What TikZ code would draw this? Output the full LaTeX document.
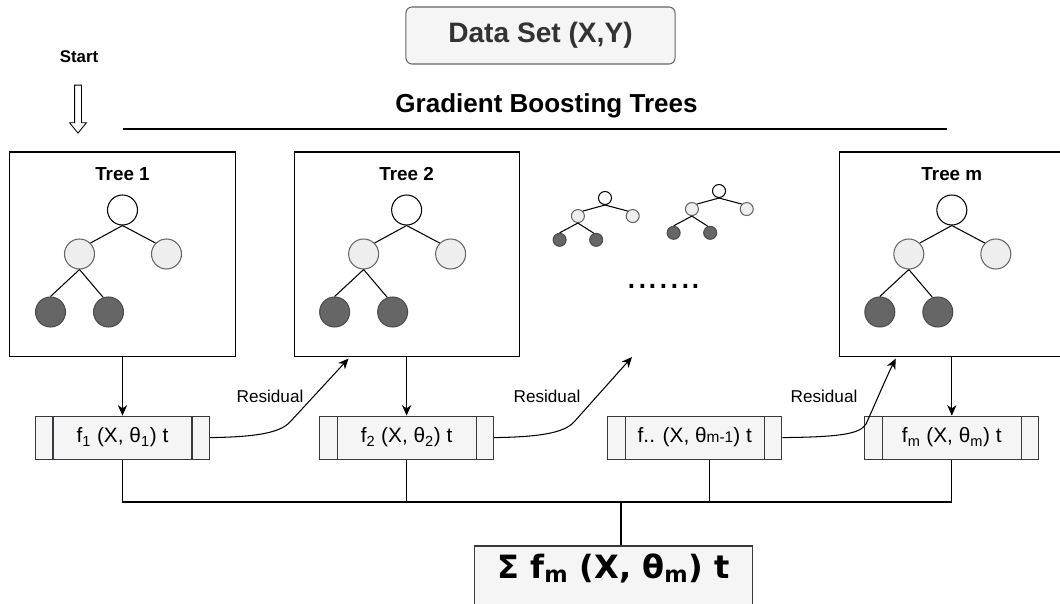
\documentclass[tikz,border=0pt]{standalone}
\usepackage{fontspec}
\setmainfont{Liberation Sans}
\newfontfamily\sumfont{DejaVu Sans}
\usetikzlibrary{positioning, arrows.meta, shapes.arrows, calc}
\definecolor{ink}{HTML}{000000}
\definecolor{boxfill}{HTML}{F5F5F5}
\definecolor{boxline}{HTML}{36393D}
\definecolor{dsline}{HTML}{666666}
\definecolor{dstext}{HTML}{333333}
\definecolor{nodelt}{HTML}{EEEEEE}
\definecolor{nodedk}{HTML}{666666}
\definecolor{nodeln}{HTML}{4D4D4D}
\tikzset{
  treebox/.style={draw=ink, line width=0.75pt, fill=white, inner sep=0pt,
    minimum width=5.625cm, minimum height=5.1cm},
  ttl/.style={font=\bfseries\fontsize{13.4}{16}\selectfont, inner sep=0pt},
  fbox/.style={draw=boxline, line width=0.75pt, fill=boxfill, inner sep=0pt,
    minimum width=4.35cm, minimum height=1.075cm, font=\fontsize{14.8}{17}\selectfont,
    path picture={\draw[boxline, line width=0.75pt]
      ([xshift=0.4375cm]path picture bounding box.north west) -- ([xshift=0.4375cm]path picture bounding box.south west)
      ([xshift=-0.4375cm]path picture bounding box.north east) -- ([xshift=-0.4375cm]path picture bounding box.south east);}},
  dsbox/.style={draw=dsline, line width=0.75pt, fill=boxfill, rounded corners=0.15cm,
    minimum width=6.725cm, minimum height=1.425cm, text=dstext,
    font=\bfseries\fontsize{20}{24}\selectfont},
  sumbox/.style={draw=boxline, line width=0.75pt, fill=boxfill,
    minimum width=6.925cm, minimum height=1.55cm, text depth=0.56cm,
    font=\sumfont\bfseries\fontsize{22.8}{26}\selectfont},
  rootc/.style={circle, draw=ink, fill=white, line width=0.75pt, inner sep=0pt},
  midc/.style={circle, draw=dsline, fill=nodelt, line width=0.75pt, inner sep=0pt},
  leafc/.style={circle, draw=nodeln, fill=nodedk, line width=0.75pt, inner sep=0pt},
  twig/.style={line width=0.75pt, draw=ink},
  btree/.pic={
    \node[rootc, minimum size=#1*0.025cm] (-root) at (0,0) {};
    \node[midc, minimum size=#1*0.025cm] (-ml) at (-43,44) {};
    \node[midc, minimum size=#1*0.025cm] (-mr) at (44,44) {};
    \node[leafc, minimum size=#1*0.025cm] (-la) at (-72,102) {};
    \node[leafc, minimum size=#1*0.025cm] (-lb) at (-14,102) {};
    \draw[twig] (-root.south) -- (-ml.north east) (-root.south) -- (-mr.north west)
      (-ml.south) -- (-la.north) (-ml.south) -- (-lb.110);
  },
  flow/.style={-{Stealth[length=2.6mm, width=2.3mm, inset=0.8mm]}, line width=0.75pt, draw=ink},
  link/.style={line width=0.75pt, draw=ink},
  rlbl/.style={font=\fontsize{12.2}{14}\selectfont, inner sep=0pt},
  startarr/.style={single arrow, draw=ink, fill=white, line width=0.6pt, rotate=-90,
    minimum height=1.2cm, minimum width=0.4cm, single arrow head extend=0.125cm,
    single arrow tip angle=78, inner xsep=0pt, inner ysep=0.075cm},
}
\begin{document}
\begin{tikzpicture}[x=0.025cm, y=-0.025cm, node distance=3mm and 10mm]
  \useasboundingbox (0,0) rectangle (1060,604);
  \node[dsbox] (data) at (540.5,35.5) {Data Set (X,Y)};
  \node[font=\bfseries\fontsize{12}{14}\selectfont, inner sep=0pt] (start) at (79,57) {Start};
  \node[startarr] (go) at (78,107) {};
  \node[font=\bfseries\fontsize{18.5}{22}\selectfont, inner sep=0pt] (title) at (546.5,106) {Gradient Boosting Trees};
  \draw[link] (123,129) -- (947,129);

  \node[treebox] (tr1) at (122.5,254) {};
  \node[treebox, right=1.45cm of tr1] (tr2) {};
  \node[treebox, right=7.975cm of tr2] (trm) {};
  \node[ttl, below=4mm of tr1.north] (tr1ttl) {Tree 1};
  \node[ttl, below=4mm of tr2.north] (tr2ttl) {Tree 2};
  \node[ttl, below=4mm of trm.north] (trmttl) {Tree m};
  \pic (t1) at ($(tr1)+(0,-44)$) {btree=30};
  \pic (t2) at ($(tr2)+(0,-44)$) {btree=30};
  \pic (tm) at ($(trm)+(0,-44)$) {btree=30};
  \pic[xscale=.63, yscale=.41] (sa) at (605,198) {btree=13};
  \pic[xscale=.63, yscale=.41] (sb) at (719,191) {btree=13};
  \node[font=\fontsize{27.4}{30}\selectfont, inner sep=0pt] (more) at (664,286) {.......};

  \node[fbox, below=1.475cm of tr1] (f1) {f\textsubscript{1} (X, θ\textsubscript{1}) t};
  \node[fbox, below=1.475cm of tr2] (f2) {f\textsubscript{2} (X, θ\textsubscript{2}) t};
  \node[fbox, right=2.825cm of f2] (fx) {f.. (X, θ{\fontsize{11}{13}\selectfont m-1}) t};
  \node[fbox, below=1.475cm of trm] (fm) {f\textsubscript{m} (X, θ\textsubscript{m}) t};
  \node[sumbox] (sum) at (613.5,577) {Σ f\textsubscript{m} (X, θ\textsubscript{m}) t};

  \draw[flow] (tr1) -- (f1);
  \draw[flow] (tr2) -- (f2);
  \draw[flow] (trm) -- (fm);

  \coordinate (r1tip) at ($(tr2.south west)+(55,2)$);
  \coordinate (r2tip) at (632,357);
  \coordinate (r3tip) at ($(trm.south west)+(57,2)$);
  \draw[flow] (f1.east) .. controls (255,437) and (280,433) .. (290,422) -- (r1tip);
  \draw[flow] (f2.east) .. controls (539,437) and (564,433) .. (574,422) -- (r2tip);
  \draw[flow] (fx.east) .. controls (840,437) and (860,434) .. (866,424) .. controls (876,402) and (886,378) .. (r3tip);
  \node[rlbl] (res1) at (270,396) {Residual};
  \node[rlbl] (res2) at (547,396) {Residual};
  \node[rlbl] (res3) at (824,396) {Residual};

  \coordinate (jn) at (621,502);
  \draw[link] (f1.south) |- (jn);
  \draw[link] (f2.south) |- (jn);
  \draw[link] ([xshift=0.3625cm]fx.south) |- (jn);
  \draw[link] (fm.south) |- (jn);
  \draw[link] (jn) -- (jn |- sum.north);
\end{tikzpicture}
\end{document}
